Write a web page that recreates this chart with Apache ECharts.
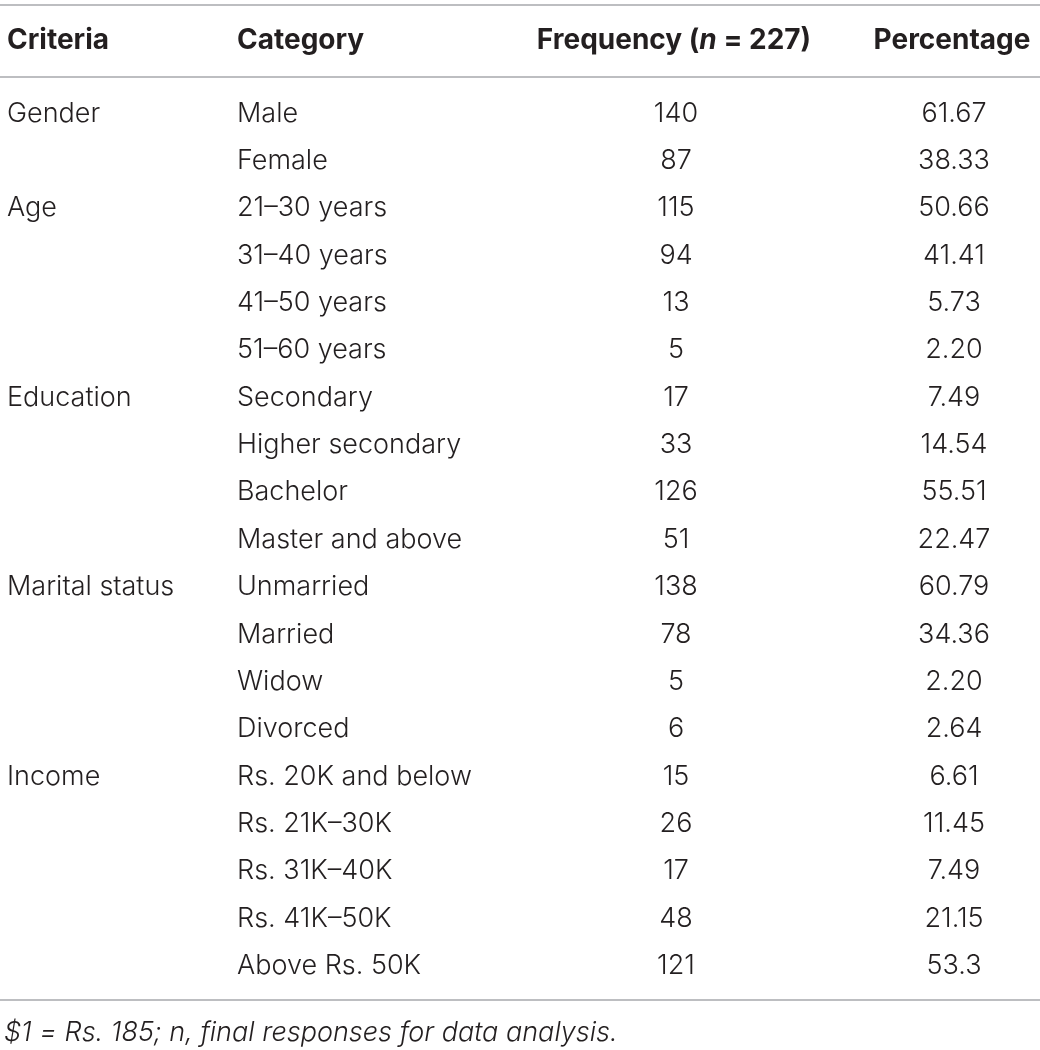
<!DOCTYPE html>
<html>
<head>
<meta charset="utf-8">
<title>Respondent profile</title>
<style>
  html, body { margin: 0; padding: 0; background: #fff; }
  #main { width: 1040px; height: 1050px; }
</style>
</head>
<body>
<div id="main"></div>
<script src="https://cdn.jsdelivr.net/npm/echarts@6/dist/echarts.min.js"></script>
<script>
// table contents
var criteria = ['Gender', '', 'Age', '', '', '', 'Education', '', '', '', 'Marital status', '', '', '', 'Income', '', '', '', ''];
var categories = ['Male', 'Female', '21\u201330 years', '31\u201340 years', '41\u201350 years', '51\u201360 years',
  'Secondary', 'Higher secondary', 'Bachelor', 'Master and above',
  'Unmarried', 'Married', 'Widow', 'Divorced',
  'Rs. 20K and below', 'Rs. 21K\u201330K', 'Rs. 31K\u201340K', 'Rs. 41K\u201350K', 'Above Rs. 50K'];
var frequency = [140, 87, 115, 94, 13, 5, 17, 33, 126, 51, 138, 78, 5, 6, 15, 26, 17, 48, 121];
var percentage = ['61.67', '38.33', '50.66', '41.41', '5.73', '2.20', '7.49', '14.54', '55.51', '22.47',
  '60.79', '34.36', '2.20', '2.64', '6.61', '11.45', '7.49', '21.15', '53.3'];
var headers = ['Criteria', 'Category', 'Frequency', 'Percentage'];
var footnote = '$1 = Rs. 185; n, final responses for data analysis.';

// layout
var FONT = 'Inter';
var INK = '#231f20';
var RULE = '#a7a9ac';
var colX = { criteria: 7, category: 237, freq: 676, pct: 954 };
var rowTop = 89.8, rowH = 47.36;

var myChart = echarts.init(document.getElementById('main'));

var rows = categories.map(function (c, i) { return [i]; });

function txt(x, y, s, align) {
  return {
    type: 'text', x: x, y: y,
    style: { text: s, fill: INK, font: '300 27px ' + FONT, align: align, verticalAlign: 'middle' }
  };
}

var option = {
  animation: false,
  backgroundColor: '#fff',
  grid: { left: 0, right: 0, top: rowTop, height: rowH * categories.length },
  xAxis: { type: 'value', min: 0, max: 1040, show: false },
  yAxis: { type: 'category', data: categories, inverse: true, show: false },
  series: [{
    type: 'custom',
    data: rows,
    encode: { y: 0 },
    renderItem: function (params, api) {
      var i = api.value(0);
      var y = api.coord([0, i])[1];
      return {
        type: 'group',
        children: [
          txt(api.coord([colX.criteria, i])[0], y, criteria[i], 'left'),
          txt(api.coord([colX.category, i])[0], y, categories[i], 'left'),
          txt(api.coord([colX.freq, i])[0], y, String(frequency[i]), 'center'),
          txt(api.coord([colX.pct, i])[0], y, percentage[i], 'center')
        ]
      };
    }
  }],
  graphic: [
    { type: 'line', shape: { x1: 0, y1: 5, x2: 1040, y2: 5 }, style: { stroke: RULE, lineWidth: 1.5 } },
    { type: 'line', shape: { x1: 0, y1: 77, x2: 1040, y2: 77 }, style: { stroke: RULE, lineWidth: 1.5 } },
    { type: 'line', shape: { x1: 0, y1: 1000, x2: 1040, y2: 1000 }, style: { stroke: RULE, lineWidth: 1.5 } },
    { type: 'text', x: colX.criteria, y: 41, style: { text: headers[0], fill: INK, font: 'bold 28px ' + FONT, verticalAlign: 'middle' } },
    { type: 'text', x: colX.category, y: 41, style: { text: headers[1], fill: INK, font: 'bold 28px ' + FONT, verticalAlign: 'middle' } },
    {
      type: 'text', x: colX.freq - 2, y: 41,
      style: {
        text: '{b|' + headers[2] + ' (}{i|n}{b| = 227)}',
        align: 'center', verticalAlign: 'middle',
        rich: {
          b: { fill: INK, fontFamily: FONT, fontWeight: 'bold', fontSize: 28 },
          i: { fill: INK, fontFamily: FONT, fontWeight: 'bold', fontStyle: 'italic', fontSize: 28 }
        }
      }
    },
    { type: 'text', x: 952, y: 41, style: { text: headers[3], fill: INK, font: 'bold 28px ' + FONT, align: 'center', verticalAlign: 'middle' } },
    { type: 'text', x: 4, y: 1033, style: { text: footnote, fill: INK, font: 'italic 300 27px ' + FONT, verticalAlign: 'middle' } }
  ]
};

myChart.setOption(option);
</script>
</body>
</html>
